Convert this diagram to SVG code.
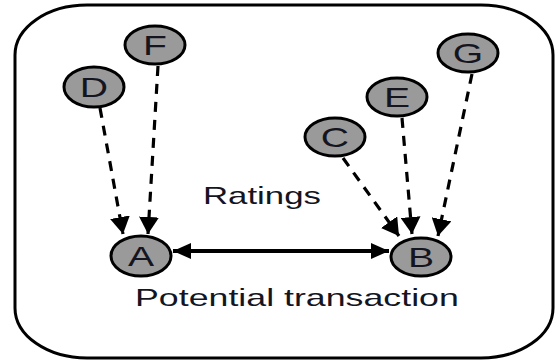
<svg xmlns="http://www.w3.org/2000/svg" width="555" height="360" viewBox="0 0 555 360">
  <style>
    .node { fill: #9a9a9a; stroke: #000; stroke-width: 3; }
    .nlabel { font-family: "Liberation Sans", Arial, sans-serif; font-size: 27px; fill: #15151f; text-anchor: middle; }
    .caption { font-family: "Liberation Sans", Arial, sans-serif; font-size: 24px; fill: #15151f; }
    .rating { fill: none; stroke: #000; stroke-width: 3.2; stroke-dasharray: 10 8; marker-end: url(#head); }
    .deal { fill: none; stroke: #000; stroke-width: 4; marker-start: url(#headWide); marker-end: url(#headWide); }
  </style>
  <defs>
    <marker id="head" markerUnits="userSpaceOnUse" viewBox="0 0 17 20" refX="17" refY="10" markerWidth="17" markerHeight="20" orient="auto">
      <path d="M0,0 L17,10 L0,20 Z" fill="#000"/>
    </marker>
    <marker id="headWide" markerUnits="userSpaceOnUse" viewBox="0 0 18 16" refX="18" refY="8" markerWidth="18" markerHeight="16" orient="auto-start-reverse">
      <path d="M0,0 L18,8 L0,16 Z" fill="#000"/>
    </marker>
  </defs>

  <!-- frame -->
  <rect x="15" y="5" width="538" height="353" rx="72" ry="50" fill="#fff" stroke="#000" stroke-width="3"/>

  <!-- connectors -->
  <g id="connectors">
    <path class="rating" d="M100,108 L123,234"/>
    <path class="rating" d="M158,66 L148,234"/>
    <path class="rating" d="M343,158 L399,236"/>
    <path class="rating" d="M402,118 L412,234"/>
    <path class="rating" d="M472,74 L438,236"/>
    <path class="deal" d="M173,251 L389,251"/>
  </g>

  <!-- nodes -->
  <g id="node-A">
    <ellipse class="node" cx="141" cy="256" rx="30" ry="20"/>
    <text class="nlabel" transform="translate(141 265.5) scale(1.45 1)">A</text>
  </g>
  <g id="node-B">
    <ellipse class="node" cx="421" cy="257" rx="30" ry="19"/>
    <text class="nlabel" transform="translate(421 266.5) scale(1.45 1)">B</text>
  </g>
  <g id="node-C">
    <ellipse class="node" cx="335" cy="137" rx="30" ry="19"/>
    <text class="nlabel" transform="translate(335 146.5) scale(1.45 1)">C</text>
  </g>
  <g id="node-D">
    <ellipse class="node" cx="94" cy="87" rx="30" ry="20"/>
    <text class="nlabel" transform="translate(94 96.5) scale(1.45 1)">D</text>
  </g>
  <g id="node-E">
    <ellipse class="node" cx="397" cy="97" rx="30" ry="19"/>
    <text class="nlabel" transform="translate(397 106.5) scale(1.45 1)">E</text>
  </g>
  <g id="node-F">
    <ellipse class="node" cx="155" cy="45" rx="30" ry="19"/>
    <text class="nlabel" transform="translate(155 54.5) scale(1.45 1)">F</text>
  </g>
  <g id="node-G">
    <ellipse class="node" cx="468" cy="53" rx="30" ry="19"/>
    <text class="nlabel" transform="translate(468 62.5) scale(1.45 1)">G</text>
  </g>

  <!-- captions -->
  <text class="caption" transform="translate(203 204) scale(1.45 1)">Ratings</text>
  <text class="caption" transform="translate(135 306) scale(1.49 1)">Potential transaction</text>
</svg>
